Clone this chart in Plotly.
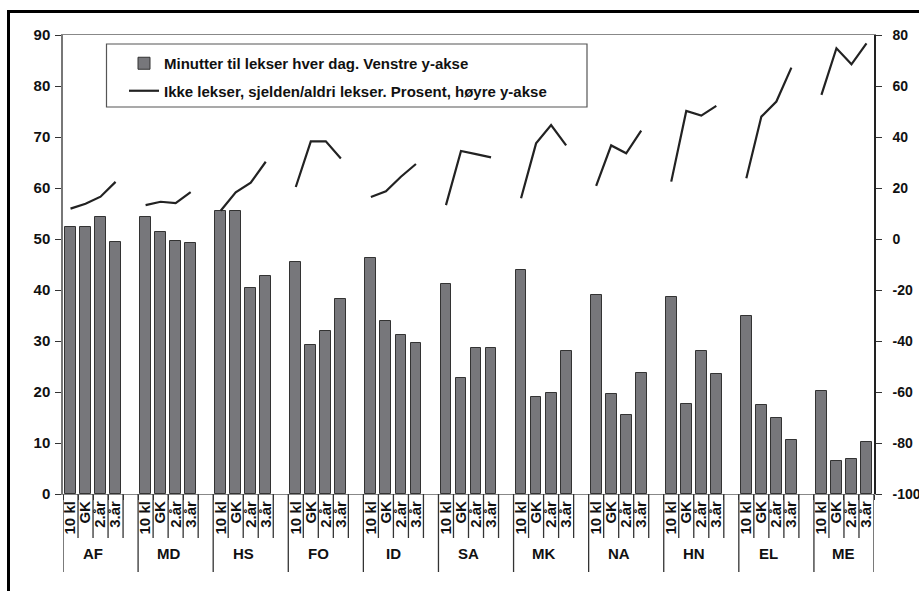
import plotly.graph_objects as go

groups = ["AF", "MD", "HS", "FO", "ID", "SA", "MK", "NA", "HN", "EL", "ME"]
subs = ["10 kl", "GK", "2.år", "3.år"]

# Minutes of homework per day (left axis)
minutes = {
    "AF": [52.4, 52.4, 54.3, 49.5],
    "MD": [54.3, 51.4, 49.7, 49.3],
    "HS": [55.5, 55.4, 40.3, 42.7],
    "FO": [45.4, 29.2, 31.9, 38.3],
    "ID": [46.3, 34.0, 31.2, 29.7],
    "SA": [41.1, 22.7, 28.7, 28.7],
    "MK": [44.0, 19.1, 19.9, 28.1],
    "NA": [39.0, 19.7, 15.5, 23.7],
    "HN": [38.6, 17.6, 28.1, 23.5],
    "EL": [34.9, 17.4, 15.0, 10.5],
    "ME": [20.2, 6.5, 6.9, 10.1],
}

# No homework / seldom-never homework, percent (right axis)
percent = {
    "AF": [11.9, 13.8, 16.6, 22.4],
    "MD": [13.3, 14.6, 14.1, 18.4],
    "HS": [11.1, 18.3, 22.1, 30.3],
    "FO": [20.4, 38.3, 38.3, 31.6],
    "ID": [16.5, 18.7, 24.4, 29.4],
    "SA": [13.3, 34.5, 33.3, 32.0],
    "MK": [16.0, 37.5, 44.7, 36.7],
    "NA": [20.8, 36.7, 33.6, 42.5],
    "HN": [22.5, 50.2, 48.4, 52.2],
    "EL": [23.8, 48.0, 53.9, 67.2],
    "ME": [56.5, 74.8, 68.5, 76.7],
}

left_ticks = [0, 10, 20, 30, 40, 50, 60, 70, 80, 90]
right_ticks = [-100, -80, -60, -40, -20, 0, 20, 40, 60, 80]

SLOTS = 5  # 4 bars + 1 empty slot per group

bar_x, bar_y, tick_text = [], [], []
line_x, line_y = [], []
for g, grp in enumerate(groups):
    for k, s in enumerate(subs):
        pos = g * SLOTS + k
        bar_x.append(pos)
        bar_y.append(minutes[grp][k])
        tick_text.append(s)
        line_x.append(pos)
        line_y.append(percent[grp][k])
    if g < len(groups) - 1:
        line_x.append(g * SLOTS + 4)
        line_y.append(None)

n_slots = len(groups) * SLOTS - 1
FONT = "Liberation Sans, Arial, sans-serif"

# plot area in window px
L, R, T, B = 63, 874, 35, 494
PW, PH = R - L, B - T


def px(xw):
    return (xw - L) / PW


def py(yw):
    return (B - yw) / PH


fig = go.Figure()
fig.add_trace(go.Bar(
    x=bar_x, y=bar_y, width=0.72,
    name="Minutter til lekser hver dag. Venstre y-akse",
    legendgroup="a",
    marker=dict(color="#77777b", line=dict(color="#333333", width=1)),
))
fig.add_trace(go.Scatter(
    x=line_x, y=line_y, yaxis="y2", mode="lines", connectgaps=False,
    name="Ikke lekser, sjelden/aldri lekser. Prosent, høyre y-akse",
    legendgroup="b",
    line=dict(color="#222222", width=2.2),
))

shapes = []
for g in range(len(groups)):
    for k in range(1, 5):
        xb = g * SLOTS + k - 0.5
        long_line = (g == len(groups) - 1 and k == 4)
        shapes.append(dict(type="line", xref="x", yref="paper", x0=xb, x1=xb,
                           y0=0, y1=py(572) if long_line else py(538),
                           line=dict(color="#333333", width=1.3)))
    xg = g * SLOTS - 0.5
    shapes.append(dict(type="line", xref="x", yref="paper", x0=xg, x1=xg,
                       y0=0, y1=py(572), line=dict(color="#333333", width=1.3)))

# legend box
shapes.append(dict(type="rect", xref="paper", yref="paper",
                   x0=px(106.5), x1=px(587), y0=py(107), y1=py(44),
                   line=dict(color="#555555", width=1.2), fillcolor="rgba(0,0,0,0)"))
# outer frame
shapes.append(dict(type="rect", xref="paper", yref="paper",
                   x0=px(8.5), x1=1.3, y0=-0.5, y1=py(11.5),
                   line=dict(color="black", width=3), fillcolor="rgba(0,0,0,0)"))

annotations = [dict(x=g * SLOTS + 1.5, y=py(553), xref="x", yref="paper",
                    text=grp, showarrow=False, yanchor="middle",
                    font=dict(family=FONT, size=15, color="#111", weight="bold"))
               for g, grp in enumerate(groups)]

fig.update_layout(
    width=919, height=591,
    margin=dict(l=L, r=919 - R, t=T, b=591 - B, autoexpand=False),
    paper_bgcolor="white", plot_bgcolor="white",
    font=dict(family=FONT, size=14, color="#111", weight="bold"),
    showlegend=True,
    legend=dict(x=px(124), y=py(47), xanchor="left", yanchor="top",
                bgcolor="rgba(0,0,0,0)", borderwidth=0,
                font=dict(family=FONT, size=15, color="#111", weight="bold"),
                tracegroupgap=5, traceorder="grouped"),
    xaxis=dict(range=[-0.5, n_slots - 0.5], tickmode="array", tickvals=bar_x,
               ticktext=tick_text, tickangle=-90, ticks="", showgrid=False,
               showline=True, linecolor="#888888", linewidth=1.2, mirror=True,
               zeroline=False, automargin=False,
               tickfont=dict(family=FONT, size=15, color="#111", weight="bold"),
               minor=dict(ticks="outside", ticklen=5, tickcolor="#333",
                          tickmode="linear", tick0=-0.5, dtick=1)),
    yaxis=dict(range=[0, 90], tickmode="array", tickvals=left_ticks,
               ticktext=[str(v) for v in left_ticks],
               ticks="outside", ticklen=6, tickcolor="#333", ticklabelstandoff=2,
               showgrid=False, showline=True, linecolor="#777777", linewidth=1.5,
               zeroline=False, automargin=False,
               tickfont=dict(family=FONT, size=15, color="#111", weight="bold")),
    yaxis2=dict(range=[-100, 80], overlaying="y", side="right",
                tickmode="array", tickvals=right_ticks,
                ticktext=[str(v) for v in right_ticks],
                ticks="outside", ticklen=6, tickcolor="#333", ticklabelstandoff=8,
                showgrid=False, automargin=False,
                showline=True, linecolor="#222222", linewidth=1.5, zeroline=False,
                tickfont=dict(family=FONT, size=14, color="#111", weight="bold")),
    shapes=shapes,
    annotations=annotations,
    bargap=0,
)

fig.write_html(
    "out.html",
    config={"displayModeBar": False},
    post_script="document.body.style.margin='0';document.body.style.overflow='hidden';",
)
